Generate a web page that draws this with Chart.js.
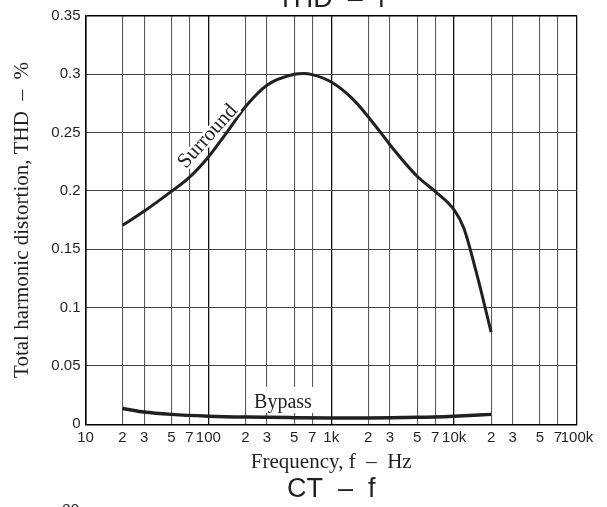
<!DOCTYPE html>
<html>
<head>
<meta charset="utf-8">
<script src="https://cdn.jsdelivr.net/npm/chart.js@4.4.1/dist/chart.umd.min.js"></script>
<style>
  html, body { margin: 0; padding: 0; background: #fff; }
  #wrap { width: 607px; height: 507px; }
</style>
</head>
<body>
<div id="wrap"><canvas id="thd"></canvas></div>
<script>
// X axis: frequency ticks (Hz) and the labels printed under them
const freqTicks = [10, 20, 30, 50, 70, 100, 200, 300, 500, 700, 1000, 2000, 3000, 5000, 7000, 10000, 20000, 30000, 50000, 70000, 100000];
const freqTickLabels = ['10', '2', '3', '5', '7', '100', '2', '3', '5', '7', '1k', '2', '3', '5', '7', '10k', '2', '3', '5', '7', '100k'];
const decades = [10, 100, 1000, 10000, 100000];

// Y axis: THD in %
const thdTicks = [0, 0.05, 0.1, 0.15, 0.2, 0.25, 0.3, 0.35];

// Surround curve
const surroundFreq = [20, 30, 50, 70, 100, 140, 200, 300, 500, 600, 700, 1000, 1500, 2500, 3000, 5000, 7000, 10000, 12000, 15000, 20000];
const surroundThd = [0.1705, 0.1825, 0.1995, 0.2115, 0.229, 0.2495, 0.272, 0.2905, 0.2998, 0.3005, 0.2995, 0.2932, 0.2785, 0.2505, 0.2395, 0.2125, 0.1995, 0.1836, 0.168, 0.132, 0.079];

// Bypass curve
const bypassFreq = [20, 30, 50, 100, 200, 500, 1000, 2000, 5000, 10000, 20000];
const bypassThd = [0.0135, 0.0105, 0.0085, 0.007, 0.0062, 0.0057, 0.0055, 0.0055, 0.006, 0.007, 0.0085];

const ink = '#231f20';
const serif = '"Liberation Serif", "Times New Roman", serif';
const sans = '"Liberation Sans", Arial, sans-serif';

function toPoints(xs, ys) {
  return xs.map((f, i) => ({ x: f, y: ys[i] }));
}

// Texts that are not part of the axes: curve names and the neighbouring chart titles
const chartTexts = {
  id: 'chartTexts',
  afterDatasetsDraw(chart) {
    const { ctx, scales: { x, y } } = chart;
    ctx.save();
    ctx.fillStyle = ink;

    // Surround label, rotated along the curve
    ctx.font = '21px ' + serif;
    ctx.textAlign = 'center';
    ctx.textBaseline = 'middle';
    ctx.translate(x.getPixelForValue(99), y.getPixelForValue(0.2465));
    ctx.rotate(-48 * Math.PI / 180);
    ctx.strokeStyle = '#fff';
    ctx.lineWidth = 5;
    ctx.strokeText('Surround', 0, 0);
    ctx.fillText('Surround', 0, 0);
    ctx.setTransform(1, 0, 0, 1, 0, 0);

    // Bypass label with a white box behind it
    ctx.font = '20px ' + serif;
    const bx = x.getPixelForValue(405);
    const by = y.getPixelForValue(0.014);
    ctx.textBaseline = 'alphabetic';
    const w = ctx.measureText('Bypass').width;
    ctx.fillStyle = '#fff';
    ctx.fillRect(bx - w / 2 - 3, by - 21, w + 6, 26);
    ctx.fillStyle = ink;
    ctx.fillText('Bypass', bx, by);

    // neighbouring chart titles, cut by the page edges
    const cx = (chart.chartArea.left + chart.chartArea.right) / 2;
    ctx.font = '27px ' + sans;
    ctx.fillText('THD  \u2013  f', cx, 7);
    ctx.fillText('CT  \u2013  f', cx, 497);
    ctx.font = '15px ' + sans;
    ctx.textAlign = 'right';
    ctx.textBaseline = 'top';
    ctx.fillText('80', 79, 502);
    ctx.restore();
  }
};

new Chart(document.getElementById('thd'), {
  type: 'line',
  data: {
    datasets: [
      {
        label: 'Surround',
        data: toPoints(surroundFreq, surroundThd),
        borderColor: ink,
        borderWidth: 3,
        pointRadius: 0,
        cubicInterpolationMode: 'monotone'
      },
      {
        label: 'Bypass',
        data: toPoints(bypassFreq, bypassThd),
        borderColor: ink,
        borderWidth: 3.5,
        pointRadius: 0,
        cubicInterpolationMode: 'monotone'
      }
    ]
  },
  options: {
    responsive: true,
    maintainAspectRatio: false,
    animation: false,
    layout: { padding: { left: 0, top: 15.7, right: 30, bottom: 0 } },
    plugins: { legend: { display: false }, tooltip: { enabled: false } },
    scales: {
      x: {
        type: 'logarithmic',
        min: 10,
        max: 100000,
        afterBuildTicks: s => { s.ticks = freqTicks.map(v => ({ value: v })); },
        afterFit: s => { s.height = 507 - 424.3; },
        ticks: {
          autoSkip: false,
          maxRotation: 0,
          padding: 5,
          color: ink,
          font: { family: sans, size: 15 },
          callback: (v, i) => freqTickLabels[i]
        },
        grid: {
          drawTicks: false,
          color: c => decades.includes(c.tick && c.tick.value) ? '#111' : '#5a5a5a',
          lineWidth: c => decades.includes(c.tick && c.tick.value) ? 1.3 : 1.1
        },
        border: { color: '#000', width: 1.5 },
        title: {
          display: true,
          text: 'Frequency, f  \u2013  Hz',
          color: ink,
          font: { family: serif, size: 21 },
          padding: { top: 0, bottom: 32 }
        }
      },
      y: {
        min: 0,
        max: 0.35,
        afterBuildTicks: s => { s.ticks = thdTicks.map(v => ({ value: v })); },
        afterFit: s => { s.width = 85.5; },
        ticks: {
          padding: 5,
          color: ink,
          font: { family: sans, size: 15 },
          callback: v => String(+v.toFixed(2))
        },
        grid: {
          drawTicks: false,
          color: c => (c.tick && c.tick.value === 0.35) ? '#000' : '#444',
          lineWidth: c => (c.tick && c.tick.value === 0.35) ? 1.5 : 1.1
        },
        border: { color: '#000', width: 1.5 },
        title: {
          display: true,
          text: 'Total harmonic distortion, THD  \u2013  %',
          color: ink,
          font: { family: serif, size: 21 },
          padding: { top: 10, bottom: 0 }
        }
      }
    }
  },
  plugins: [chartTexts]
});
</script>
</body>
</html>
